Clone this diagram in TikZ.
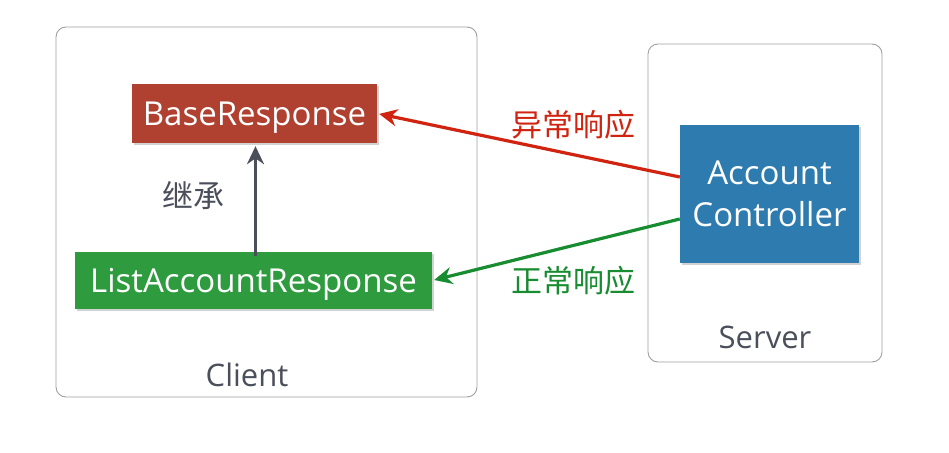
\documentclass[tikz,border=0pt]{standalone}
\usepackage{fontspec}
\setmainfont{Open Sans}
\newfontfamily\cjk{Noto Sans CJK SC}
\usepackage{tikz}
\usetikzlibrary{arrows.meta, positioning, calc, shadows}
\definecolor{myred}{RGB}{176,64,47}
\definecolor{mygreen}{RGB}{46,155,63}
\definecolor{myblue}{RGB}{45,123,175}
\definecolor{mygray}{RGB}{74,79,90}
\definecolor{myframe}{RGB}{160,160,160}
\definecolor{arrred}{RGB}{208,36,16}
\definecolor{arrgreen}{RGB}{24,140,48}
\tikzset{
  frame/.style={rectangle, draw=myframe, rounded corners=10pt, line width=0.9pt},
  block/.style={rectangle, text=white, inner sep=0pt, text depth=0pt,
    font=\fontsize{33}{42}\selectfont, align=center,
    drop shadow={shadow xshift=1.5pt, shadow yshift=-1.5pt, opacity=0.35}},
  caption/.style={text=mygray, font=\fontsize{31}{34}\selectfont},
  arrow/.style={-{Stealth[length=18pt, width=17pt]}, line width=3.6pt, color=mygray},
  redarrow/.style={-{Stealth[length=18pt, width=17pt]}, line width=3.2pt, color=arrred},
  greenarrow/.style={-{Stealth[length=18pt, width=17pt]}, line width=3.2pt, color=arrgreen}
}
\begin{document}
\begin{tikzpicture}[x=1pt, y=-1pt]
  \useasboundingbox[fill=white] (0,0) rectangle (949,452);

  % Frames
  \node[frame, minimum width=421pt, minimum height=370pt] (client) at (266.5,212) {};
  \node[frame, minimum width=234pt, minimum height=318pt] (server) at (765,203) {};
  \node[caption] at (247,375) {Client};
  \node[caption] at (765,337) {Server};

  % Blocks
  \node[block, fill=myred, minimum width=245pt, minimum height=59pt] (base) at (254.5,113.5) {BaseResponse};
  \node[block, fill=mygreen, minimum width=357pt, minimum height=57pt] (list) at (253.5,280.5) {ListAccountResponse};
  \node[block, fill=myblue, minimum width=179pt, minimum height=138pt] (ctrl) at (769.5,194)
    {Account\\Controller};

  % Connectors
  \draw[arrow, shorten >=3pt] ($(list.north)+(2,4)$) -- ($(base.south)+(1,0)$);
  \node[caption, text=mygray] at (193,196) {\cjk 继承};
  \draw[redarrow, shorten >=2pt] ($(ctrl.west)+(0,-17)$) -- (base.east);
  \draw[greenarrow, shorten >=2pt] ($(ctrl.west)+(0,25)$) -- (list.east);
  \node[text=arrred, font=\fontsize{31}{34}\selectfont\cjk] at (573,125) {异常响应};
  \node[text=arrgreen, font=\fontsize{31}{34}\selectfont\cjk] at (573,281) {正常响应};
\end{tikzpicture}
\end{document}
